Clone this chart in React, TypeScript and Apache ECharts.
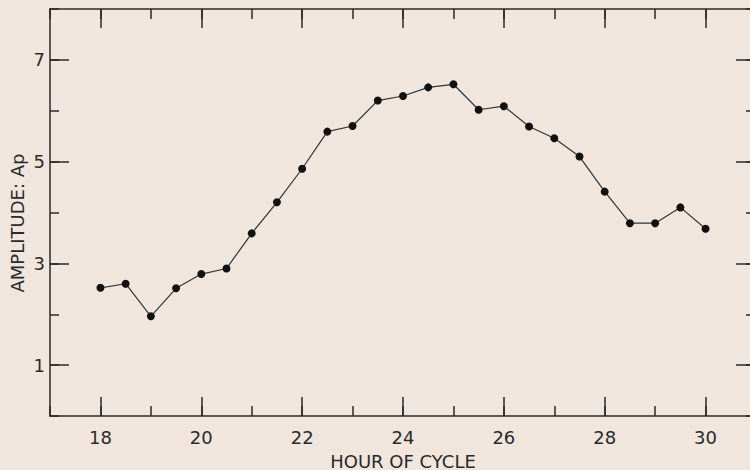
import React, { useEffect, useRef } from "react";
import * as echarts from "echarts";

const hours = [18, 18.5, 19, 19.5, 20, 20.5, 21, 21.5, 22, 22.5, 23, 23.5, 24, 24.5, 25, 25.5, 26, 26.5, 27, 27.5, 28, 28.5, 29, 29.5, 30];
const amplitude = [2.52, 2.6, 1.96, 2.51, 2.79, 2.9, 3.59, 4.2, 4.86, 5.59, 5.7, 6.2, 6.29, 6.46, 6.52, 6.02, 6.09, 5.69, 5.46, 5.1, 4.41, 3.79, 3.79, 4.1, 3.68];
const xMajorTicks = [18, 20, 22, 24, 26, 28, 30];
const yMajorTicks = [1, 3, 5, 7];

const INK = "#2a2a2a";
const BG = "#f0e6de";
const FONT = "'DejaVu Sans', 'Liberation Sans', sans-serif";

export default function App() {
  const ref = useRef<HTMLDivElement>(null);
  useEffect(() => {
    if (!ref.current) return;
    const chart = echarts.init(ref.current, undefined, { renderer: "svg" });
    const lineStyle = { color: INK, width: 1.5 };
    const hidden = { show: false };
    const xBase = { type: "value", min: 17, max: 31, interval: 1, gridIndex: 0 };
    const yBase = { type: "value", min: 0, max: 8, interval: 1, gridIndex: 0 };
    chart.setOption({
      animation: false,
      backgroundColor: BG,
      grid: { left: 50, right: 14, top: 9, bottom: 54, containLabel: false, outerBoundsMode: "none" },
      xAxis: [
        {
          ...xBase,
          position: "bottom",
          axisLine: { show: true, onZero: false, lineStyle },
          axisTick: { show: true, inside: true, length: 10, lineStyle },
          splitLine: hidden,
          axisLabel: {
            show: true,
            customValues: xMajorTicks,
            margin: 12,
            color: INK,
            fontSize: 18,
            fontFamily: FONT,
          },
          name: "HOUR OF CYCLE",
          nameLocation: "middle",
          nameGap: 36,
          nameTextStyle: { color: INK, fontSize: 18, fontFamily: FONT },
        },
        {
          ...xBase,
          position: "bottom",
          axisLine: { show: false, onZero: false },
          axisTick: { show: true, inside: true, length: 19, customValues: xMajorTicks, lineStyle },
          axisLabel: hidden,
          splitLine: hidden,
        },
        {
          ...xBase,
          position: "top",
          axisLine: { show: true, onZero: false, lineStyle },
          axisTick: { show: true, inside: true, length: 10, lineStyle },
          axisLabel: hidden,
          splitLine: hidden,
        },
        {
          ...xBase,
          position: "top",
          axisLine: { show: false, onZero: false },
          axisTick: { show: true, inside: true, length: 19, customValues: xMajorTicks, lineStyle },
          axisLabel: hidden,
          splitLine: hidden,
        },
      ],
      yAxis: [
        {
          ...yBase,
          position: "left",
          axisLine: { show: true, onZero: false, lineStyle },
          axisTick: { show: true, inside: true, length: 9, lineStyle },
          splitLine: hidden,
          axisLabel: {
            show: true,
            customValues: yMajorTicks,
            margin: 5,
            color: INK,
            fontSize: 18,
            fontFamily: FONT,
          },
        },
        {
          ...yBase,
          position: "left",
          axisLine: { show: false, onZero: false },
          axisTick: { show: true, inside: true, length: 19, customValues: yMajorTicks, lineStyle },
          axisLabel: hidden,
          splitLine: hidden,
        },
        {
          ...yBase,
          position: "right",
          axisLine: { show: true, onZero: false, lineStyle },
          axisTick: { show: true, inside: true, length: 10, lineStyle },
          axisLabel: hidden,
          splitLine: hidden,
        },
        {
          ...yBase,
          position: "right",
          axisLine: { show: false, onZero: false },
          axisTick: { show: true, inside: true, length: 20, customValues: yMajorTicks, lineStyle },
          axisLabel: hidden,
          splitLine: hidden,
        },
      ],
      graphic: [
        {
          type: "text",
          x: 17,
          y: 223,
          rotation: Math.PI / 2,
          style: {
            text: "AMPLITUDE: Ap",
            fill: INK,
            fontSize: 18,
            fontFamily: FONT,
            align: "center",
            verticalAlign: "middle",
          },
        },
      ],
      series: [
        {
          type: "line",
          xAxisIndex: 0,
          yAxisIndex: 0,
          data: hours.map((h, i) => [h, amplitude[i]]),
          symbol: "circle",
          symbolSize: 8,
          itemStyle: { color: "#111" },
          lineStyle: { color: "#333", width: 1.2 },
        },
      ],
    });
    return () => chart.dispose();
  }, []);
  return (
    <div
      ref={ref}
      style={{ position: "fixed", left: 0, top: 0, width: 770, height: 470 }}
    />
  );
}
